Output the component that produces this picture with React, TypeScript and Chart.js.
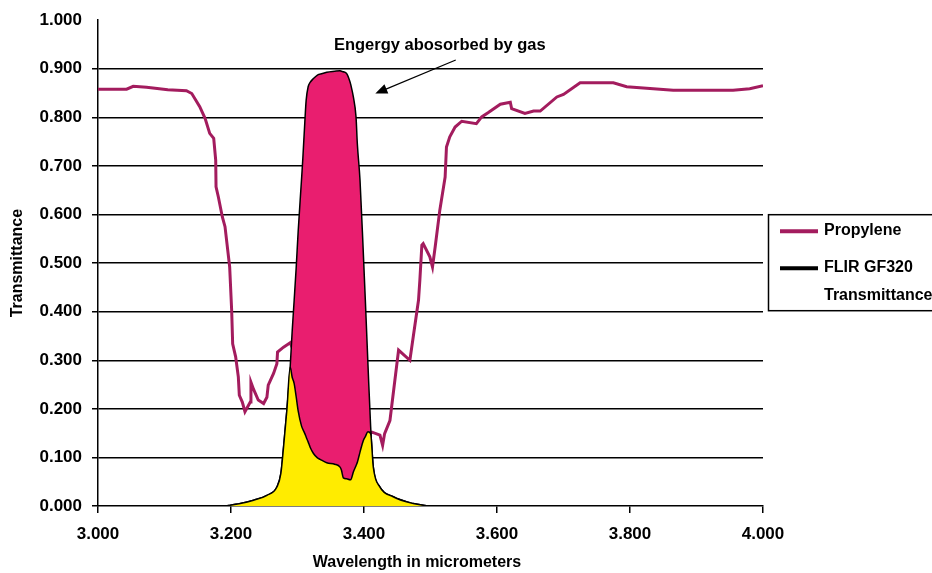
import React, { useEffect, useRef } from "react";
import { Chart, registerables } from "chart.js";

Chart.register(...registerables);

// ---- Data ----
const xTickValues = [3.0, 3.2, 3.4, 3.6, 3.8, 4.0];
const yTickValues = [0.0, 0.1, 0.2, 0.3, 0.4, 0.5, 0.6, 0.7, 0.8, 0.9, 1.0];

const seriesLabels = ["Propylene", "FLIR GF320", "Transmittance"];
const annotationText = "Engergy abosorbed by gas";
const xTitle = "Wavelength in micrometers";
const yTitle = "Transmittance";

const propyleneX = [
  3.0, 3.043, 3.053, 3.073, 3.105, 3.133, 3.141, 3.153, 3.161, 3.168, 3.174,
  3.177, 3.1775, 3.181, 3.187, 3.191, 3.198, 3.201, 3.2025, 3.207, 3.211,
  3.2125, 3.217, 3.221, 3.229, 3.23, 3.234, 3.241, 3.249, 3.254, 3.256, 3.264,
  3.269, 3.27, 3.279, 3.289, 3.3, 3.32, 3.34, 3.36, 3.38, 3.4, 3.412, 3.424,
  3.428, 3.431, 3.439, 3.452, 3.469, 3.474, 3.482, 3.484, 3.487, 3.489, 3.499,
  3.503, 3.507, 3.514, 3.522, 3.524, 3.529, 3.537, 3.547, 3.569, 3.577, 3.587,
  3.605, 3.62, 3.622, 3.642, 3.655, 3.665, 3.69, 3.7, 3.725, 3.775, 3.795,
  3.865, 3.955, 3.98, 4.0,
];
const propyleneY = [
  0.858, 0.858, 0.864, 0.862, 0.857, 0.855, 0.849, 0.822, 0.798, 0.767, 0.757,
  0.712, 0.657, 0.636, 0.595, 0.575, 0.492, 0.403, 0.334, 0.307, 0.266,
  0.228, 0.214, 0.194, 0.214, 0.255, 0.24, 0.218, 0.211, 0.224, 0.249, 0.273,
  0.293, 0.317, 0.327, 0.336, 0.3, 0.15, 0.1, 0.09, 0.07, 0.14, 0.152, 0.146,
  0.125, 0.149, 0.176, 0.321, 0.3, 0.348, 0.424, 0.465, 0.537, 0.54, 0.513,
  0.492, 0.533, 0.609, 0.677, 0.739, 0.76, 0.78, 0.792, 0.787, 0.801, 0.81,
  0.827, 0.831, 0.818, 0.808, 0.813, 0.813, 0.842, 0.847, 0.871, 0.871, 0.863,
  0.856, 0.856, 0.859, 0.865,
];

// FLIR GF320 filter band (shared x for filter and detected curves)
const bandX = [
  3.19, 3.196, 3.214, 3.234, 3.254, 3.269, 3.275, 3.279, 3.284, 3.289, 3.292,
  3.295, 3.298, 3.301, 3.306, 3.308, 3.311, 3.313, 3.316, 3.319, 3.324, 3.33,
  3.334, 3.344, 3.356, 3.364, 3.366, 3.369, 3.374, 3.379, 3.38, 3.384, 3.388,
  3.39, 3.394, 3.399, 3.402, 3.406, 3.41, 3.414, 3.424, 3.444, 3.474, 3.497,
];
const filterY = [
  0.0, 0.001, 0.005, 0.012, 0.022, 0.039, 0.067, 0.121, 0.197, 0.286, 0.36,
  0.424, 0.49, 0.565, 0.671, 0.715, 0.79, 0.835, 0.863, 0.872, 0.88, 0.887,
  0.889, 0.893, 0.895, 0.896, 0.895, 0.894, 0.89, 0.873, 0.868, 0.842, 0.801,
  0.745, 0.671, 0.52, 0.424, 0.29, 0.163, 0.08, 0.039, 0.019, 0.005, 0.0,
];
const detectedY = [
  0.0, 0.001, 0.005, 0.012, 0.022, 0.039, 0.067, 0.121, 0.197, 0.286, 0.265,
  0.252, 0.225, 0.196, 0.165, 0.158, 0.149, 0.142, 0.132, 0.121, 0.108, 0.099,
  0.096, 0.089, 0.086, 0.08, 0.074, 0.058, 0.056, 0.054, 0.054, 0.07, 0.083,
  0.09, 0.111, 0.135, 0.143, 0.153, 0.149, 0.08, 0.039, 0.019, 0.005, 0.0,
];

// annotation anchor (data units)
const annotationPos = { x: 3.514, y: 0.949 };
const arrowFrom = { x: 3.538, y: 0.918 };
const arrowTo = { x: 3.417, y: 0.849 };

const MAROON = "#A31C5E";
const PINK = "#E91E6F";
const YELLOW = "#FFEC00";
const FONT_FAMILY = '"Liberation Sans", Arial, sans-serif';

const overlayPlugin = {
  id: "overlay",
  afterDraw(chart: any) {
    const { ctx, chartArea, scales } = chart;
    const xs = scales.x;
    const ys = scales.y;
    const f = (s: number) => `bold ${s}px ${FONT_FAMILY}`;
    ctx.save();
    ctx.fillStyle = "#000";
    ctx.strokeStyle = "#000";

    // annotation text
    ctx.font = f(16.5);
    ctx.textAlign = "center";
    ctx.textBaseline = "middle";
    ctx.fillText(
      annotationText,
      xs.getPixelForValue(annotationPos.x),
      ys.getPixelForValue(annotationPos.y)
    );

    // arrow
    const x1 = xs.getPixelForValue(arrowFrom.x);
    const y1 = ys.getPixelForValue(arrowFrom.y);
    const x2 = xs.getPixelForValue(arrowTo.x);
    const y2 = ys.getPixelForValue(arrowTo.y);
    const ang = Math.atan2(y2 - y1, x2 - x1);
    const headLen = 12;
    const headW = 5;
    ctx.lineWidth = 1.2;
    ctx.beginPath();
    ctx.moveTo(x1, y1);
    ctx.lineTo(x2 - Math.cos(ang) * headLen * 0.8, y2 - Math.sin(ang) * headLen * 0.8);
    ctx.stroke();
    ctx.beginPath();
    ctx.moveTo(x2, y2);
    ctx.lineTo(
      x2 - Math.cos(ang) * headLen + Math.sin(ang) * headW,
      y2 - Math.sin(ang) * headLen - Math.cos(ang) * headW
    );
    ctx.lineTo(
      x2 - Math.cos(ang) * headLen - Math.sin(ang) * headW,
      y2 - Math.sin(ang) * headLen + Math.cos(ang) * headW
    );
    ctx.closePath();
    ctx.fill();

    // legend
    const lx = chartArea.right + 5;
    const ly = chartArea.top + 194;
    ctx.lineWidth = 1.5;
    ctx.strokeRect(lx + 0.5, ly + 0.5, 200, 96);
    ctx.lineWidth = 4;
    ctx.strokeStyle = MAROON;
    ctx.beginPath();
    ctx.moveTo(lx + 12, ly + 17);
    ctx.lineTo(lx + 50, ly + 17);
    ctx.stroke();
    ctx.strokeStyle = "#000";
    ctx.beginPath();
    ctx.moveTo(lx + 12, ly + 54);
    ctx.lineTo(lx + 50, ly + 54);
    ctx.stroke();
    ctx.font = f(16);
    ctx.textAlign = "left";
    ctx.textBaseline = "middle";
    ctx.fillText(seriesLabels[0], lx + 56, ly + 16);
    ctx.fillText(seriesLabels[1], lx + 56, ly + 53);
    ctx.fillText(seriesLabels[2], lx + 56, ly + 81);

    // axis titles
    ctx.font = f(16);
    ctx.textAlign = "center";
    ctx.fillText(xTitle, chartArea.left + 319, chartArea.bottom + 57);
    ctx.save();
    ctx.translate(18, (chartArea.top + chartArea.bottom) / 2);
    ctx.rotate(-Math.PI / 2);
    ctx.fillText(yTitle, 0, 0);
    ctx.restore();

    ctx.restore();
  },
};

export default function App() {
  const canvasRef = useRef<HTMLCanvasElement | null>(null);

  useEffect(() => {
    if (!canvasRef.current) return;
    const pts = (xa: number[], ya: number[]) =>
      xa.map((x, i) => ({ x, y: ya[i] }));

    const tickFont = { family: FONT_FAMILY, size: 17, weight: "bold" as const };

    const chart = new Chart(canvasRef.current, {
      type: "line",
      data: {
        datasets: [
          {
            label: "Propylene",
            data: pts(propyleneX, propyleneY),
            borderColor: MAROON,
            borderWidth: 3,
            pointRadius: 0,
            fill: false,
            tension: 0,
            order: 3,
          },
          {
            label: "FLIR GF320 Transmittance",
            data: pts(bandX, filterY),
            borderColor: "#000",
            backgroundColor: PINK,
            borderWidth: 1.5,
            pointRadius: 0,
            fill: "+1",
            cubicInterpolationMode: "monotone",
            order: 2,
          },
          {
            label: "Detected",
            data: pts(bandX, detectedY),
            borderColor: "#000",
            backgroundColor: YELLOW,
            borderWidth: 1.5,
            pointRadius: 0,
            fill: "origin",
            cubicInterpolationMode: "monotone",
            order: 1,
          },
        ],
      },
      options: {
        animation: false,
        responsive: true,
        maintainAspectRatio: false,
        layout: { padding: { left: 0, top: 20, right: 169, bottom: 0 } },
        plugins: {
          legend: { display: false },
          tooltip: { enabled: false },
        },
        scales: {
          x: {
            type: "linear",
            min: 3,
            max: 4,
            afterBuildTicks: (scale: any) => {
              scale.ticks = xTickValues.map((v) => ({ value: v }));
            },
            afterFit: (scale: any) => {
              scale.height = 67;
            },
            ticks: {
              color: "#000",
              font: tickFont,
              padding: 11,
              maxRotation: 0,
              callback: (v: any) => Number(v).toFixed(3),
            },
            grid: {
              drawOnChartArea: false,
              tickColor: "#000",
              tickLength: 7,
              lineWidth: 1.5,
            },
            border: { color: "#000", width: 1.5 },
          },
          y: {
            type: "linear",
            min: 0,
            max: 1,
            afterBuildTicks: (scale: any) => {
              scale.ticks = yTickValues.map((v) => ({ value: v }));
            },
            afterFit: (scale: any) => {
              scale.width = 98;
            },
            ticks: {
              color: "#000",
              font: tickFont,
              padding: 10,
              callback: (v: any) => Number(v).toFixed(3),
            },
            grid: {
              color: (c: any) =>
                c.tick && (c.tick.value >= 0.999 || c.tick.value <= 0.001)
                  ? "rgba(0,0,0,0)"
                  : "#000",
              tickColor: (c: any) =>
                c.tick && c.tick.value >= 0.999 ? "rgba(0,0,0,0)" : "#000",
              tickLength: 6,
              lineWidth: 1.5,
            },
            border: { color: "#000", width: 1.5 },
          },
        },
      },
      plugins: [overlayPlugin],
    });

    return () => chart.destroy();
  }, []);

  return (
    <div
      style={{
        position: "fixed",
        left: 0,
        top: 0,
        width: 932,
        height: 573,
        background: "#fff",
      }}
    >
      <canvas ref={canvasRef} />
    </div>
  );
}
